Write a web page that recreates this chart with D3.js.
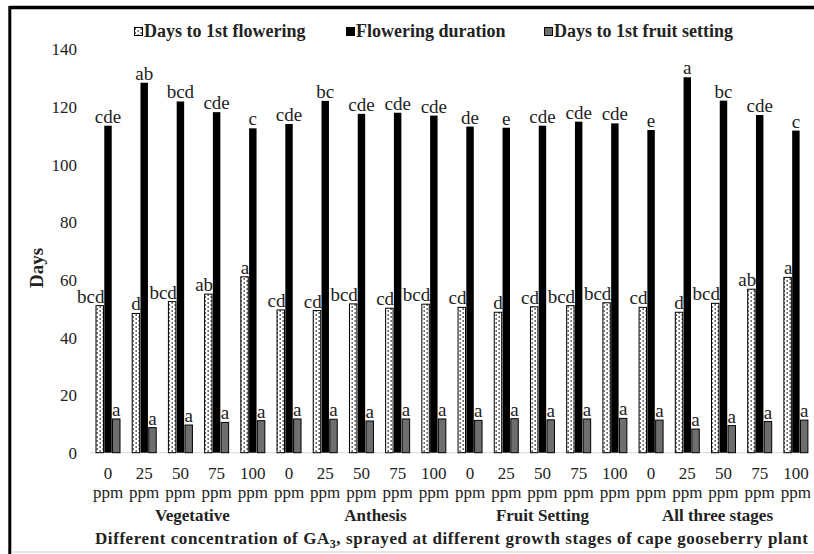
<!DOCTYPE html>
<html>
<head>
<meta charset="utf-8">
<script src="https://cdn.jsdelivr.net/npm/d3@7"></script>
<style>
  html, body { margin: 0; padding: 0; background: #fff; }
  svg { display: block; }
  text { font-family: "Liberation Serif", "Times New Roman", serif; fill: #222; }
</style>
</head>
<body>
<svg id="chart" width="814" height="554"></svg>
<script>
// ---------------- data ----------------
const stages = ["Vegetative", "Anthesis", "Fruit Setting", "All three stages"];
const concentrations = ["0", "25", "50", "75", "100"];
const seriesNames = ["Days to 1st flowering", "Flowering duration", "Days to 1st fruit setting"];
const yTicks = [0, 20, 40, 60, 80, 100, 120, 140];

const daysToFlowering = [51.0, 48.3, 52.4, 55.0, 61.0, 49.5, 49.3, 51.6, 50.1, 51.5, 50.4, 48.7, 50.6, 51.0, 52.0, 50.4, 48.7, 51.8, 56.7, 60.8];
const floweringDuration = [113.4, 128.3, 121.8, 118.1, 112.5, 114.0, 122.0, 117.5, 117.9, 116.9, 113.1, 112.7, 113.4, 114.8, 114.2, 111.9, 130.2, 122.1, 117.1, 111.7];
const daysToFruitSetting = [11.7, 8.7, 9.6, 10.5, 11.1, 11.7, 11.6, 11.0, 11.7, 11.7, 11.2, 11.8, 11.4, 11.7, 11.9, 11.3, 8.2, 9.4, 10.8, 11.3];

const lettersFlowering = ["bcd", "d", "bcd", "ab", "a", "cd", "cd", "bcd", "cd", "bcd", "cd", "d", "cd", "bcd", "bcd", "cd", "d", "bcd", "ab", "a"];
const lettersDuration = ["cde", "ab", "bcd", "cde", "c", "cde", "bc", "cde", "cde", "cde", "de", "e", "cde", "cde", "cde", "e", "a", "bc", "cde", "c"];
const lettersFruit = ["a", "a", "a", "a", "a", "a", "a", "a", "a", "a", "a", "a", "a", "a", "a", "a", "a", "a", "a", "a"];

// ---------------- layout constants (not data) ----------------
const stageLabelShift = [12, 14, 0, -6];

// ---------------- build ----------------
const categories = [];
stages.forEach(s => concentrations.forEach(c => categories.push({ stage: s, conc: c, key: s + "|" + c })));
const seriesValues = [daysToFlowering, floweringDuration, daysToFruitSetting];
const seriesLetters = [lettersFlowering, lettersDuration, lettersFruit];

const svg = d3.select("#chart");

// patterns
const defs = svg.append("defs");
const pat = defs.append("pattern").attr("id", "dots").attr("patternUnits", "userSpaceOnUse")
  .attr("width", 6).attr("height", 4);
pat.append("rect").attr("width", 6).attr("height", 4).attr("fill", "#fff");
pat.append("circle").attr("cx", 1.2).attr("cy", 1).attr("r", 0.9).attr("fill", "#555");
pat.append("circle").attr("cx", 4.2).attr("cy", 3).attr("r", 0.9).attr("fill", "#555");

const fills = ["url(#dots)", "#000", "#6e6e6e"];

// frame
svg.append("rect").attr("x", 0).attr("y", 0).attr("width", 814).attr("height", 554).attr("fill", "#fff");
svg.append("line").attr("x1", 9.5).attr("x2", 814).attr("y1", 7.5).attr("y2", 7.5).attr("stroke", "#000").attr("stroke-width", 3.5);
svg.append("line").attr("x1", 9.8).attr("x2", 9.8).attr("y1", 6).attr("y2", 554).attr("stroke", "#000").attr("stroke-width", 3);
svg.append("line").attr("x1", 11).attr("x2", 814).attr("y1", 552).attr("y2", 552).attr("stroke", "#ddd").attr("stroke-width", 1.5);

// scales
const x0 = d3.scaleBand().domain(categories.map(d => d.key)).range([89.9, 814]).padding(0);
const x1 = d3.scaleBand().domain(seriesNames).range([-12, 12]).paddingInner(0.1);
const y = d3.scaleLinear().domain([0, 140]).range([452.7, 49]);
const cx = k => x0(k) + x0.bandwidth() / 2;

// y axis
const yAxis = d3.axisLeft(y).tickValues(yTicks).tickSize(0).tickPadding(0);
const gy = svg.append("g").attr("transform", "translate(77,0)").call(yAxis);
gy.attr("font-family", null);
gy.select(".domain").remove();
gy.selectAll("text").attr("font-size", 17).attr("fill", "#333").attr("dy", "0.34em");

// baseline
svg.append("line").attr("x1", 90).attr("x2", 808).attr("y1", y(0)).attr("y2", y(0)).attr("stroke", "#d9d9d9").attr("stroke-width", 1);

// bars
seriesNames.forEach((s, si) => {
  const g = svg.append("g");
  g.selectAll("rect").data(categories).join("rect")
    .attr("x", (d) => cx(d.key) + x1(s))
    .attr("width", x1.bandwidth())
    .attr("y", (d, i) => y(seriesValues[si][i]))
    .attr("height", (d, i) => y(0) - y(seriesValues[si][i]))
    .attr("fill", fills[si])
    .attr("stroke", "#000")
    .attr("stroke-width", si === 1 ? 0 : 1);
  // letters
  g.selectAll("text").data(categories).join("text")
    .attr("x", d => si === 0 ? cx(d.key) + x1(s) + x1.bandwidth() + 1 : cx(d.key) + x1(s) + x1.bandwidth() / 2)
    .attr("y", (d, i) => y(seriesValues[si][i]) - 3)
    .attr("text-anchor", si === 0 ? "end" : "middle")
    .attr("font-size", 19)
    .attr("fill", "#222")
    .text((d, i) => seriesLetters[si][i]);
});

// x labels
const gx = svg.append("g");
categories.forEach(d => {
  gx.append("text").attr("x", cx(d.key)).attr("y", 479).attr("text-anchor", "middle").attr("font-size", 17).text(d.conc);
  gx.append("text").attr("x", cx(d.key)).attr("y", 498).attr("text-anchor", "middle").attr("font-size", 17).text("ppm");
});
stages.forEach((s, si) => {
  const ks = categories.filter(d => d.stage === s).map(d => cx(d.key));
  gx.append("text").attr("x", d3.mean(ks) + stageLabelShift[si]).attr("y", 521).attr("text-anchor", "middle")
    .attr("font-size", 17).attr("font-weight", "bold").text(s);
});
const t = gx.append("text").attr("x", 95).attr("y", 544).attr("font-size", 17).attr("font-weight", "bold")
  .attr("textLength", 713).attr("lengthAdjust", "spacing");
t.append("tspan").text("Different concentration of GA");
t.append("tspan").attr("font-size", 12).attr("dy", 4).text("3");
t.append("tspan").attr("dy", -4).text(", sprayed at different growth stages of  cape gooseberry plant");

// y title
svg.append("text").attr("transform", "translate(43,268) rotate(-90)").attr("text-anchor", "middle")
  .attr("font-size", 19).attr("font-weight", "bold").text("Days");

// legend
const legX = [134, 346, 544];
seriesNames.forEach((s, i) => {
  const g = svg.append("g").attr("transform", `translate(${legX[i]},0)`);
  g.append("rect").attr("x", 0.5).attr("y", 27.5).attr("width", 8).attr("height", 8)
    .attr("fill", fills[i]).attr("stroke", "#000").attr("stroke-width", 1);
  g.append("text").attr("x", 10).attr("y", 37).attr("font-size", 18).attr("font-weight", "bold").text(s);
});
</script>
</body>
</html>
